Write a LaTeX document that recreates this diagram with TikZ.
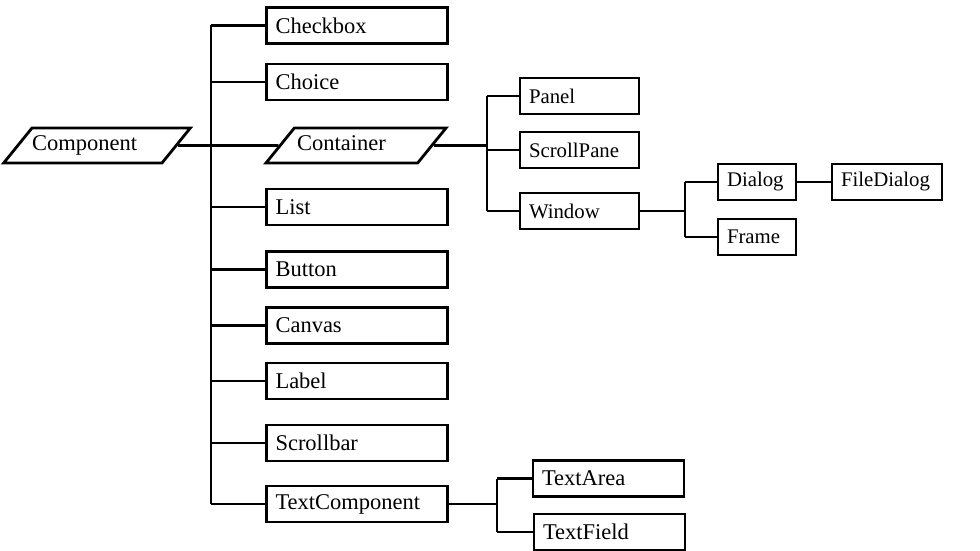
\documentclass[tikz,border=0pt]{standalone}
\usepackage{fontspec}
\setmainfont{Liberation Serif}
\usetikzlibrary{shapes.geometric}
\newcommand{\bigtxt}{\fontsize{22.5}{26}\selectfont}
\newcommand{\smalltxt}{\fontsize{20.8}{24}\selectfont}

\begin{document}
\begin{tikzpicture}[x=1pt,y=-1pt,line width=2.8pt,
  cls/.style={draw,inner xsep=9pt,inner ysep=0pt,minimum height=36pt,
    text width=#1,align=left,font=\bigtxt},
  abs/.style={draw,trapezium,trapezium left angle=51,trapezium right angle=129,
    trapezium stretches body=true,minimum width=180pt,
    text height=15pt,text depth=5pt,inner ysep=7.5pt,
    inner xsep=0pt,text width=#1,align=left,font=\bigtxt}]
  \useasboundingbox (0,0) rectangle (980,551);
  % abstract classes
  \node[abs=130pt] (comp) at (97,145.5) {Component};
  \node[abs=118pt] (cont) at (356,145.5) {Container};
  % subclasses of Component
  \foreach \n/\t/\y in {chk/Checkbox/25.5,cho/Choice/82,lst/List/207,
      btn/Button/269.5,cnv/Canvas/325.5,lbl/Label/381,scb/Scrollbar/443,
      tcp/TextComponent/504}
    \node[cls=163pt] (\n) at (357,\y) {\t};
  % subclasses of Container and Window
  \node[cls=101pt,font=\smalltxt] (pnl) at (579.5,96) {Panel};
  \node[cls=101pt,font=\smalltxt] (spn) at (579.5,150) {ScrollPane};
  \node[cls=101pt,font=\smalltxt] (win) at (579.5,211) {Window};
  \node[cls=60pt,font=\smalltxt] (dlg) at (757,182) {Dialog};
  \node[cls=60pt,font=\smalltxt] (frm) at (757,237) {Frame};
  \node[cls=92pt,font=\smalltxt] (fdl) at (887,182) {FileDialog};
  % subclasses of TextComponent
  \node[cls=133pt] (tar) at (608.5,478.5) {TextArea};
  \node[cls=133pt] (tfd) at (609.5,532) {TextField};

  % trunks
  \coordinate (t1) at (211,0);
  \coordinate (t2) at (487,0);
  \coordinate (t3) at (685,0);
  \coordinate (t4) at (497,0);
  \draw (t1 |- chk.west) -- (t1 |- tcp.west);
  \draw (comp.east) -- (cont.west);
  \foreach \n in {chk,cho,lst,btn,cnv,lbl,scb,tcp}
    \draw (t1 |- \n.west) -- (\n.west);
  \draw (t2 |- pnl.west) -- (t2 |- win.west);
  \draw (cont.east) -- (cont.east -| t2);
  \foreach \n in {pnl,spn,win}
    \draw (t2 |- \n.west) -- (\n.west);
  \draw (win.east) -- (win.east -| t3);
  \draw (t3 |- dlg.west) -- (t3 |- frm.west);
  \foreach \n in {dlg,frm}
    \draw (t3 |- \n.west) -- (\n.west);
  \draw (dlg.east) -- (fdl.west);
  \draw (tcp.east) -- (tcp.east -| t4);
  \draw (t4 |- tar.west) -- (t4 |- tfd.west);
  \foreach \n in {tar,tfd}
    \draw (t4 |- \n.west) -- (\n.west);
\end{tikzpicture}
\end{document}
